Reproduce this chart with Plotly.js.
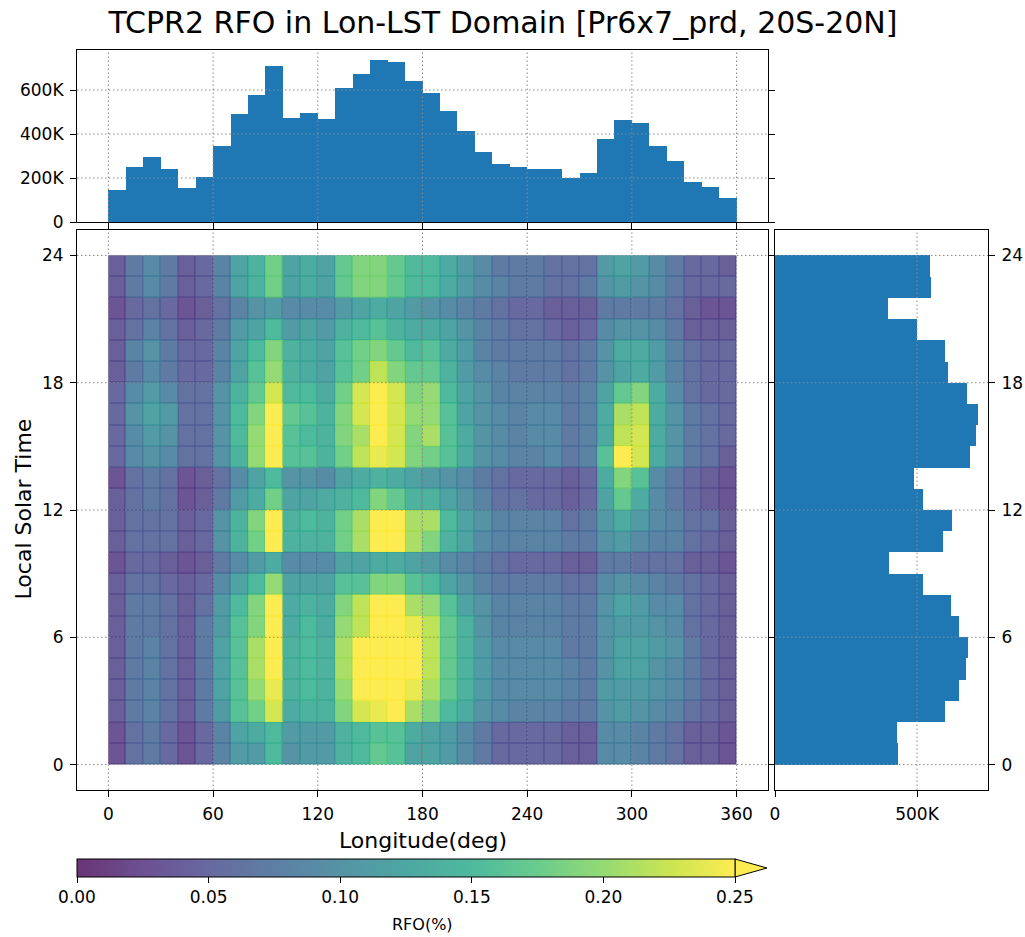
<!DOCTYPE html>
<html><head><meta charset="utf-8">
<script src="https://cdn.plot.ly/plotly-3.0.1.min.js"></script>
<style>html,body{margin:0;padding:0;background:#fff}</style>
</head><body>
<div id="chart" style="width:1025px;height:937px"></div>
<script>
// ---------------- DATA ----------------
const lonCenters = [5,15,25,35,45,55,65,75,85,95,105,115,125,135,145,155,165,175,
                    185,195,205,215,225,235,245,255,265,275,285,295,305,315,325,335,345,355];
const lstCenters = [0.5,1.5,2.5,3.5,4.5,5.5,6.5,7.5,8.5,9.5,10.5,11.5,
                    12.5,13.5,14.5,15.5,16.5,17.5,18.5,19.5,20.5,21.5,22.5,23.5];
const lonTicks = [0,60,120,180,240,300,360];
const lstTicks = [0,6,12,18,24];
const topCountTicks = [0,200000,400000,600000];
const topCountLabels = ['0','200K','400K','600K'];
const rightCountTicks = [0,500000];
const rightCountLabels = ['0','500K'];
const cbTicks = [0,0.05,0.10,0.15,0.20,0.25];

// counts per longitude bin (top histogram)
const lonCounts = [144000,248000,296000,242000,153000,204000,347000,492000,579000,710000,
                   474000,495000,467000,611000,674000,738000,726000,639000,587000,503000,
                   413000,320000,264000,248000,242000,242000,200000,224000,377000,464000,
                   449000,344000,276000,183000,158000,110000];
// counts per LST bin (right histogram), hour 0..23
const lstCounts = [433000,429000,600000,647000,672000,678000,649000,621000,520000,402000,
                   593000,624000,520000,490000,687000,706000,716000,675000,609000,598000,
                   501000,399000,550000,545000];

// RFO (%) : rows = LST hour 0..23, columns = longitude bins 0..35
const rfo = [
 [0.03,0.06,0.07,0.05,0.03,0.05,0.08,0.11,0.11,0.15,0.10,0.11,0.11,0.14,0.15,0.17,0.16,0.12, 0.12,0.11,0.09,0.07,0.05,0.05,0.05,0.05,0.04,0.04,0.09,0.09,0.08,0.07,0.06,0.04,0.04,0.03],
 [0.03,0.06,0.07,0.05,0.03,0.05,0.08,0.12,0.13,0.15,0.11,0.11,0.11,0.14,0.15,0.16,0.16,0.13, 0.12,0.11,0.09,0.07,0.05,0.05,0.05,0.05,0.04,0.04,0.09,0.09,0.08,0.07,0.06,0.04,0.04,0.03],
 [0.04,0.07,0.08,0.06,0.04,0.07,0.11,0.16,0.18,0.23,0.13,0.14,0.14,0.19,0.23,0.24,0.27,0.21, 0.19,0.15,0.13,0.10,0.09,0.08,0.08,0.08,0.07,0.07,0.10,0.11,0.10,0.09,0.08,0.06,0.05,0.04],
 [0.04,0.07,0.08,0.06,0.04,0.07,0.12,0.16,0.20,0.24,0.14,0.15,0.14,0.20,0.25,0.26,0.27,0.24, 0.21,0.17,0.14,0.11,0.09,0.09,0.09,0.09,0.08,0.07,0.11,0.11,0.11,0.10,0.09,0.07,0.05,0.04],
 [0.04,0.07,0.08,0.06,0.04,0.07,0.12,0.16,0.21,0.27,0.14,0.15,0.14,0.21,0.26,0.27,0.27,0.25, 0.22,0.17,0.14,0.11,0.09,0.09,0.09,0.09,0.08,0.07,0.10,0.12,0.12,0.10,0.09,0.07,0.05,0.04],
 [0.04,0.07,0.08,0.06,0.04,0.07,0.12,0.16,0.21,0.27,0.14,0.15,0.14,0.21,0.26,0.27,0.27,0.25, 0.22,0.17,0.14,0.11,0.09,0.09,0.09,0.09,0.07,0.07,0.10,0.12,0.12,0.11,0.10,0.07,0.05,0.04],
 [0.04,0.07,0.07,0.06,0.04,0.07,0.11,0.16,0.19,0.26,0.13,0.15,0.13,0.20,0.22,0.27,0.27,0.24, 0.22,0.17,0.14,0.10,0.08,0.08,0.08,0.08,0.07,0.07,0.10,0.11,0.11,0.10,0.09,0.06,0.05,0.04],
 [0.04,0.07,0.07,0.06,0.04,0.06,0.11,0.15,0.19,0.26,0.13,0.14,0.13,0.19,0.22,0.26,0.26,0.21, 0.20,0.16,0.12,0.10,0.08,0.08,0.08,0.08,0.07,0.07,0.10,0.12,0.11,0.09,0.09,0.06,0.05,0.04],
 [0.04,0.06,0.06,0.05,0.04,0.05,0.09,0.12,0.15,0.20,0.12,0.12,0.12,0.16,0.16,0.19,0.19,0.16, 0.15,0.12,0.10,0.08,0.07,0.07,0.07,0.07,0.06,0.06,0.09,0.10,0.09,0.08,0.07,0.06,0.05,0.04],
 [0.03,0.05,0.05,0.04,0.03,0.04,0.07,0.09,0.11,0.13,0.09,0.09,0.09,0.12,0.12,0.13,0.13,0.12, 0.11,0.09,0.08,0.07,0.06,0.05,0.05,0.05,0.04,0.04,0.07,0.07,0.06,0.06,0.06,0.04,0.04,0.03],
 [0.04,0.06,0.06,0.06,0.04,0.05,0.10,0.14,0.18,0.26,0.14,0.14,0.14,0.18,0.21,0.26,0.25,0.21, 0.19,0.14,0.12,0.09,0.08,0.08,0.08,0.08,0.07,0.07,0.10,0.11,0.09,0.08,0.08,0.06,0.05,0.04],
 [0.04,0.06,0.06,0.06,0.04,0.05,0.10,0.14,0.19,0.26,0.14,0.15,0.14,0.18,0.21,0.26,0.25,0.21, 0.21,0.15,0.12,0.10,0.08,0.08,0.08,0.08,0.06,0.07,0.11,0.13,0.11,0.09,0.08,0.06,0.06,0.04],
 [0.04,0.06,0.07,0.06,0.03,0.04,0.07,0.11,0.13,0.18,0.12,0.12,0.13,0.14,0.15,0.19,0.17,0.14, 0.14,0.12,0.10,0.08,0.06,0.06,0.05,0.05,0.04,0.05,0.12,0.17,0.13,0.09,0.07,0.05,0.04,0.03],
 [0.03,0.06,0.07,0.06,0.03,0.04,0.06,0.09,0.12,0.15,0.10,0.10,0.09,0.12,0.13,0.14,0.13,0.12, 0.11,0.10,0.09,0.07,0.06,0.05,0.05,0.05,0.04,0.05,0.13,0.19,0.16,0.09,0.07,0.05,0.04,0.03],
 [0.05,0.09,0.10,0.09,0.06,0.06,0.10,0.14,0.20,0.26,0.16,0.16,0.14,0.18,0.22,0.24,0.23,0.19, 0.18,0.16,0.13,0.10,0.09,0.08,0.08,0.09,0.07,0.08,0.16,0.26,0.23,0.13,0.10,0.07,0.06,0.04],
 [0.05,0.09,0.11,0.10,0.06,0.06,0.10,0.15,0.20,0.26,0.16,0.15,0.14,0.19,0.21,0.26,0.23,0.19, 0.21,0.16,0.13,0.10,0.09,0.08,0.09,0.09,0.07,0.08,0.13,0.22,0.23,0.13,0.10,0.07,0.06,0.05],
 [0.05,0.10,0.12,0.11,0.06,0.06,0.10,0.15,0.19,0.26,0.17,0.16,0.14,0.19,0.23,0.26,0.23,0.20, 0.20,0.16,0.12,0.10,0.09,0.08,0.09,0.09,0.07,0.08,0.13,0.21,0.22,0.13,0.10,0.07,0.06,0.05],
 [0.05,0.09,0.11,0.09,0.06,0.06,0.10,0.14,0.17,0.23,0.15,0.15,0.13,0.18,0.23,0.25,0.23,0.19, 0.20,0.15,0.12,0.10,0.08,0.08,0.08,0.08,0.07,0.08,0.12,0.17,0.19,0.13,0.09,0.06,0.05,0.05],
 [0.04,0.07,0.09,0.07,0.05,0.05,0.08,0.12,0.16,0.20,0.14,0.13,0.12,0.16,0.18,0.22,0.19,0.17, 0.17,0.14,0.11,0.09,0.08,0.07,0.07,0.07,0.06,0.07,0.10,0.12,0.13,0.11,0.08,0.06,0.05,0.05],
 [0.04,0.08,0.10,0.07,0.05,0.05,0.08,0.12,0.15,0.19,0.14,0.13,0.12,0.16,0.18,0.19,0.17,0.15, 0.16,0.13,0.11,0.08,0.07,0.07,0.07,0.07,0.06,0.07,0.10,0.13,0.13,0.11,0.08,0.06,0.05,0.05],
 [0.04,0.06,0.08,0.06,0.04,0.05,0.07,0.11,0.12,0.15,0.11,0.12,0.11,0.14,0.15,0.16,0.14,0.13, 0.13,0.12,0.10,0.08,0.07,0.06,0.06,0.05,0.04,0.05,0.09,0.10,0.10,0.09,0.07,0.04,0.04,0.04],
 [0.03,0.05,0.06,0.05,0.03,0.04,0.06,0.08,0.10,0.11,0.09,0.09,0.09,0.11,0.12,0.13,0.12,0.11, 0.10,0.09,0.08,0.07,0.06,0.05,0.05,0.04,0.04,0.04,0.07,0.07,0.07,0.07,0.06,0.04,0.03,0.03],
 [0.04,0.07,0.09,0.07,0.04,0.05,0.08,0.12,0.14,0.18,0.12,0.13,0.12,0.17,0.19,0.19,0.17,0.15, 0.15,0.13,0.11,0.09,0.08,0.07,0.07,0.06,0.06,0.07,0.10,0.11,0.10,0.09,0.07,0.05,0.05,0.05],
 [0.04,0.07,0.09,0.07,0.04,0.05,0.08,0.12,0.14,0.18,0.12,0.13,0.12,0.17,0.19,0.19,0.17,0.15, 0.15,0.13,0.11,0.09,0.07,0.07,0.07,0.06,0.06,0.06,0.11,0.12,0.11,0.09,0.07,0.05,0.05,0.04]
];

// ---------------- STYLE ----------------
const W = 1025, H = 937;
const fx = p => p / W, fy = p => 1 - p / H;
const viridisStops = [[0,'#440154'],[0.1,'#482475'],[0.2,'#414487'],[0.3,'#355f8d'],[0.4,'#2a788e'],
  [0.5,'#21918c'],[0.6,'#22a884'],[0.7,'#44bf70'],[0.8,'#7ad151'],[0.9,'#bddf26'],[1,'#fde725']];
const ALPHA = 0.8;
function blend(hex, a) {
  const r = parseInt(hex.slice(1,3),16), g = parseInt(hex.slice(3,5),16), b = parseInt(hex.slice(5,7),16);
  const m = c => Math.round(a*c + (1-a)*255);
  return `rgb(${m(r)},${m(g)},${m(b)})`;
}
const mutedScale = viridisStops.map(s => [s[0], blend(s[1], ALPHA)]);
const edgeScale = viridisStops.map(s => [s[0], blend(s[1], 0.95)]);

const FONT = 'DejaVu Sans, Liberation Sans, sans-serif';
const common = {
  showgrid: false, zeroline: false, showline: true, linecolor: '#000', linewidth: 1,
  mirror: true, ticks: 'outside', ticklen: 6, tickwidth: 1, tickcolor: '#000',
  tickfont: {size: 17, color: '#000'}, fixedrange: true, ticklabelstandoff: 3
};
const gridLine = {color: '#8a8a8a', width: 1, dash: '1.5px,2.5px'};

const mainY = [fy(790), fy(230)];
const mainX = [fx(77), fx(768)];
const lonRange = [-18, 378];
const lstRange = [-1.2, 25.2];

const traces = [
  {type: 'heatmap', x: lonCenters, y: lstCenters, z: rfo, zmin: 0, zmax: 0.25,
   colorscale: edgeScale, showscale: false, xaxis: 'x', yaxis: 'y', hoverinfo: 'skip'},
  {type: 'heatmap', x: lonCenters, y: lstCenters, z: rfo, zmin: 0, zmax: 0.25,
   colorscale: mutedScale, xgap: 1, ygap: 1, xaxis: 'x', yaxis: 'y', hoverinfo: 'skip',
   showscale: true,
   colorbar: {orientation: 'h', x: fx(77), xanchor: 'left', xpad: 0, y: fy(859), yanchor: 'top', ypad: 0,
     len: 658, lenmode: 'pixels', thickness: 18, thicknessmode: 'pixels',
     outlinewidth: 1, outlinecolor: '#000', ticks: 'outside', ticklen: 6, tickcolor: '#000',
     tickvals: cbTicks, tickformat: '.2f', tickfont: {size: 17, color: '#000'}}},
  {type: 'bar', x: lonCenters, y: lonCounts, width: 10, marker: {color: '#1f77b4', line: {width: 0}},
   xaxis: 'x2', yaxis: 'y2', hoverinfo: 'skip'},
  {type: 'bar', orientation: 'h', y: lstCenters, x: lstCounts, width: 1, marker: {color: '#1f77b4', line: {width: 0}},
   xaxis: 'x3', yaxis: 'y3', hoverinfo: 'skip'}
];

const shapes = [];
function vgrid(vals, xr, yr, skip) {
  vals.forEach(v => { if (skip && skip.includes(v)) return;
    shapes.push({type: 'line', xref: xr, yref: yr + ' domain', x0: v, x1: v, y0: 0, y1: 1, line: gridLine, layer: 'above'}); });
}
function hgrid(vals, xr, yr, skip) {
  vals.forEach(v => { if (skip && skip.includes(v)) return;
    shapes.push({type: 'line', xref: xr + ' domain', yref: yr, x0: 0, x1: 1, y0: v, y1: v, line: gridLine, layer: 'above'}); });
}
vgrid(lonTicks, 'x', 'y'); hgrid(lstTicks, 'x', 'y');
vgrid(lonTicks, 'x2', 'y2'); hgrid(topCountTicks, 'x2', 'y2', [0]);
vgrid(rightCountTicks, 'x3', 'y3', [0]); hgrid(lstTicks, 'x3', 'y3');
// colorbar "extend max" triangle
shapes.push({type: 'path', xref: 'paper', yref: 'paper',
  path: `M ${fx(735)},${fy(859)} L ${fx(767)},${fy(868)} L ${fx(735)},${fy(877)} Z`,
  fillcolor: blend('#fde725', ALPHA), line: {color: '#000', width: 1}, layer: 'above'});

const layout = {
  width: W, height: H, margin: {l: 0, r: 0, t: 0, b: 0, pad: 0},
  paper_bgcolor: '#fff', plot_bgcolor: '#fff', showlegend: false, bargap: 0,
  font: {family: FONT, size: 17, color: '#000'},
  title: {text: 'TCPR2 RFO in Lon-LST Domain [Pr6x7_prd, 20S-20N]', font: {size: 30, color: '#000'},
          x: fx(503), xanchor: 'center', y: fy(22), yanchor: 'middle'},
  xaxis: Object.assign({}, common, {domain: mainX, range: lonRange, anchor: 'y', tickvals: lonTicks, mirror: true}),
  yaxis: Object.assign({}, common, {domain: mainY, range: lstRange, anchor: 'x', tickvals: lstTicks, mirror: true}),
  xaxis2: Object.assign({}, common, {domain: mainX, range: lonRange, anchor: 'y2', tickvals: lonTicks, showticklabels: false}),
  yaxis2: Object.assign({}, common, {domain: [fy(222), fy(50)], range: [0, 782000], anchor: 'x2',
          tickvals: topCountTicks, ticktext: topCountLabels, mirror: 'ticks'}),
  xaxis3: Object.assign({}, common, {domain: [fx(775), fx(988)], range: [0, 750000], anchor: 'y3',
          tickvals: rightCountTicks, ticktext: rightCountLabels}),
  yaxis3: Object.assign({}, common, {domain: mainY, range: lstRange, anchor: 'x3', side: 'right',
          tickvals: lstTicks, mirror: 'ticks'}),
  shapes: shapes,
  annotations: [
    {text: 'Longitude(deg)', xref: 'paper', yref: 'paper', x: fx(422.5), y: fy(840), xanchor: 'center', yanchor: 'middle',
     showarrow: false, font: {size: 22, color: '#000'}},
    {text: 'Local Solar Time', xref: 'paper', yref: 'paper', x: fx(23), y: fy(509.5), xanchor: 'center', yanchor: 'middle',
     textangle: -90, showarrow: false, font: {size: 22, color: '#000'}},
    {text: 'RFO(%)', xref: 'paper', yref: 'paper', x: fx(422.5), y: fy(924), xanchor: 'center', yanchor: 'middle',
     showarrow: false, font: {size: 16, color: '#000'}}
  ]
};

Plotly.newPlot('chart', traces, layout, {staticPlot: true, displayModeBar: false});
</script>
</body></html>
